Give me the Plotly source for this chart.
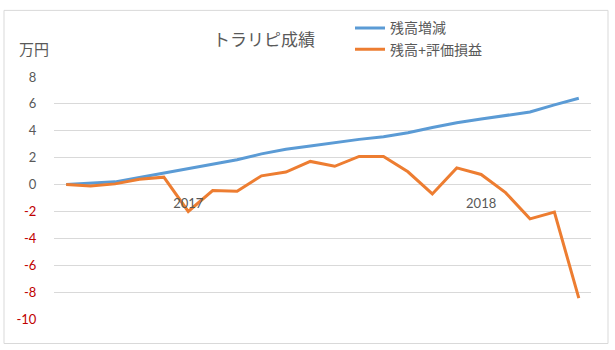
import plotly.graph_objects as go

# ---- data ----
months = list(range(22))  # monthly points, 2017 -> 2018
zandaka = [0, 0.1, 0.2, 0.52, 0.85, 1.18, 1.5, 1.85, 2.28, 2.63, 2.87, 3.12,
           3.36, 3.55, 3.85, 4.25, 4.6, 4.87, 5.12, 5.4, 5.93, 6.42]
hyoka = [0.0, -0.1, 0.05, 0.4, 0.55, -2.0, -0.45, -0.5, 0.65, 0.93, 1.72, 1.36,
         2.09, 2.09, 0.95, -0.7, 1.24, 0.75, -0.6, -2.55, -2.05, -8.45]
series_names = ["残高増減", "残高+評価損益"]
year_tick_pos = [5, 17]
year_tick_text = ["2017", "2018"]
y_ticks = [-10, -8, -6, -4, -2, 0, 2, 4, 6, 8]

GRAY = "#595959"
RED = "#C00000"
FONT = "Lato, Noto Sans CJK JP, sans-serif"

fig = go.Figure()
fig.add_trace(go.Scatter(x=months, y=zandaka, mode="lines", name=series_names[0],
                         line=dict(color="#5B9BD5", width=3)))
fig.add_trace(go.Scatter(x=months, y=hyoka, mode="lines", name=series_names[1],
                         line=dict(color="#ED7D31", width=3)))

y_text = [f"<span style='color:{RED}'>{v}</span>" if v < 0 else str(v) for v in y_ticks]

W, H = 615, 350
ml, mr, mt, mb = 54, 24, 72, 31
pw, ph = W - ml - mr, H - mt - mb
ymin, ymax = -10, 8
zero_pos = (0 - ymin) / (ymax - ymin)

def px_x(px):
    return (px - ml) / pw

def px_y(py):
    return (H - mb - py) / ph

fig.update_layout(
    width=W, height=H,
    margin=dict(l=ml, r=mr, t=mt, b=mb),
    paper_bgcolor="white", plot_bgcolor="white",
    font=dict(family=FONT, color=GRAY, size=13),
    title=dict(text="トラリピ成績", x=264 / W, xanchor="center", xref="container",
               y=1 - 40 / H, yanchor="middle", yref="container",
               font=dict(size=17, color=GRAY, family=FONT)),
    showlegend=True,
    legend=dict(x=px_x(350), xanchor="left", y=px_y(6), yanchor="top",
                font=dict(size=14, color=GRAY, family=FONT),
                bgcolor="rgba(0,0,0,0)", tracegroupgap=0),
    xaxis=dict(range=[-0.5, 21.5], showgrid=False, zeroline=False, showline=False,
               tickmode="array", tickvals=year_tick_pos, ticktext=year_tick_text,
               anchor="free", position=zero_pos,
               ticks="outside", ticklen=7, tickcolor="rgba(0,0,0,0)",
               tickfont=dict(size=13, color=GRAY, family=FONT)),
    yaxis=dict(range=[ymin, ymax], tickmode="array", tickvals=y_ticks, ticktext=y_text,
               showgrid=True, gridcolor="#D9D9D9", gridwidth=1,
               zeroline=False, showline=False,
               ticks="outside", ticklen=14, tickcolor="rgba(0,0,0,0)",
               tickfont=dict(size=13, color=GRAY, family=FONT)),
    annotations=[dict(text="万円", xref="paper", yref="paper",
                      x=px_x(17), xanchor="left", y=px_y(43), yanchor="middle",
                      showarrow=False, font=dict(size=15, color=GRAY, family=FONT))],
    shapes=[dict(type="rect", xref="paper", yref="paper",
                 x0=px_x(4), x1=px_x(608), y0=px_y(344), y1=px_y(4),
                 line=dict(color="#D9D9D9", width=1), layer="below")],
)

fig.write_html("out.html")
